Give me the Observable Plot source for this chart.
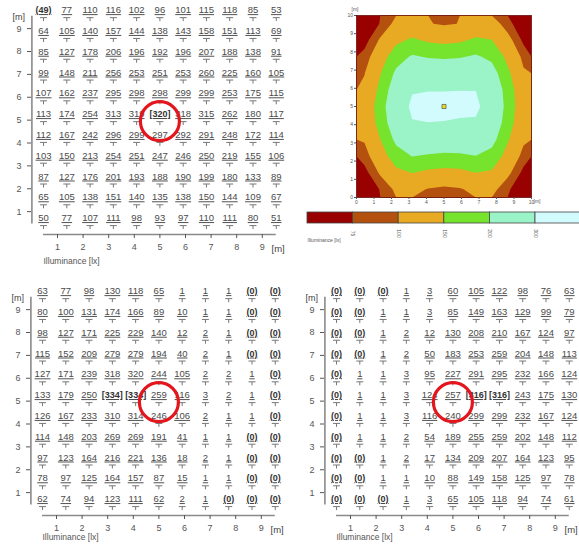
<!DOCTYPE html>
<html><head><meta charset="utf-8">
<script src="https://cdn.jsdelivr.net/npm/d3@7"></script>
<script src="https://cdn.jsdelivr.net/npm/@observablehq/plot@0.6"></script>
<style>
html,body{margin:0;padding:0;background:#fff;overflow:hidden;}
#page{position:relative;width:579px;height:546px;overflow:hidden;}
#page > svg{position:absolute;}
</style></head><body><div id="page"></div>
<script>
// calculation grid: 11 x 11 points over a 10 m x 10 m room [m]
const gridM = d3.range(11).map(i => (i + 0.5) * 10 / 11);
const axisTicks = [1, 2, 3, 4, 5, 6, 7, 8, 9];
const contourTicks = [0, 1, 2, 3, 4, 5, 6, 7, 8, 9, 10];
const isoLevels = [75, 100, 150, 200, 300];
const isoColors = ["#990000", "#b5510f", "#e8aa22", "#76e32d", "#9bf3c8", "#d2fbfe"];

// illuminance [lx], rows listed from top (y ~ 9.5 m) to bottom (y ~ 0.5 m)
const illumA = [
  [49, 77, 110, 116, 102, 96, 101, 115, 118, 85, 53],
  [64, 105, 140, 157, 144, 138, 143, 158, 151, 113, 69],
  [85, 127, 178, 206, 196, 192, 196, 207, 188, 138, 91],
  [99, 148, 211, 256, 253, 251, 253, 260, 225, 160, 105],
  [107, 162, 237, 295, 298, 298, 299, 299, 253, 175, 115],
  [113, 174, 254, 313, 319, 320, 318, 315, 262, 180, 117],
  [112, 167, 242, 296, 299, 297, 292, 291, 248, 172, 114],
  [103, 150, 213, 254, 251, 247, 246, 250, 219, 155, 106],
  [87, 127, 176, 201, 193, 188, 190, 199, 180, 133, 89],
  [65, 105, 138, 151, 140, 135, 138, 150, 144, 109, 67],
  [50, 77, 107, 111, 98, 93, 97, 110, 111, 80, 51]
];
const illumB = [
  [63, 77, 98, 130, 118, 65, 1, 1, 1, 0, 0],
  [80, 100, 131, 174, 166, 89, 10, 1, 1, 0, 0],
  [98, 127, 171, 225, 229, 140, 12, 2, 1, 0, 0],
  [115, 152, 209, 279, 279, 194, 40, 2, 1, 0, 0],
  [127, 171, 239, 318, 320, 244, 105, 2, 2, 1, 0],
  [133, 179, 250, 334, 334, 259, 116, 3, 2, 1, 0],
  [126, 167, 233, 310, 314, 246, 106, 2, 1, 1, 0],
  [114, 148, 203, 269, 269, 191, 41, 1, 1, 0, 0],
  [97, 123, 164, 216, 221, 136, 18, 2, 1, 0, 0],
  [78, 97, 125, 164, 157, 87, 15, 1, 1, 0, 0],
  [62, 74, 94, 123, 111, 62, 2, 1, 0, 0, 0]
];
const illumC = [
  [0, 0, 0, 1, 3, 60, 105, 122, 98, 76, 63],
  [0, 0, 1, 1, 3, 85, 149, 163, 129, 99, 79],
  [0, 0, 1, 2, 12, 130, 208, 210, 167, 124, 97],
  [0, 0, 1, 2, 50, 183, 253, 259, 204, 148, 113],
  [0, 1, 1, 3, 95, 227, 291, 295, 232, 166, 124],
  [0, 1, 1, 3, 124, 257, 316, 316, 243, 175, 130],
  [0, 1, 1, 3, 116, 240, 299, 299, 232, 167, 124],
  [0, 1, 1, 2, 54, 189, 255, 259, 202, 148, 112],
  [0, 0, 1, 2, 17, 134, 209, 207, 164, 123, 95],
  [0, 0, 1, 1, 10, 88, 149, 158, 125, 97, 78],
  [0, 0, 0, 1, 3, 65, 105, 118, 94, 74, 61]
];
const focusCell = {col: 5, row: 5}; // circled calculation point

const page = document.getElementById("page");
const valFont = "'Liberation Sans Narrow', 'Arial Narrow', 'Liberation Sans', Arial, sans-serif";
const tickFont = "'Liberation Sans', Arial, sans-serif";

function toPoints(rows) {
  const pts = [];
  rows.forEach((row, j) => row.forEach((v, i) => pts.push({x: gridM[i], y: gridM[10 - j], v, col: i, row: j})));
  const mn = d3.min(pts, d => d.v), mx = d3.max(pts, d => d.v);
  pts.forEach(d => {
    d.ext = d.v === mn ? "min" : d.v === mx ? "max" : null;
    d.label = d.ext === "min" ? `(${d.v})` : d.ext === "max" ? `[${d.v}]` : `${d.v}`;
  });
  return pts;
}

const tSymbol = {
  draw(ctx) {
    ctx.moveTo(-3.5, 1.5); ctx.lineTo(3.5, 1.5);
    ctx.moveTo(0, 1.5); ctx.lineTo(0, 5);
  }
};

function place(svg, left, top) {
  svg.style.left = left + "px";
  svg.style.top = top + "px";
  page.appendChild(svg);
}

function gridPanel(rows, left, top, height) {
  const pts = toPoints(rows);
  const svg = Plot.plot({
    width: 290, height,
    marginLeft: 31, marginTop: 0, marginRight: 0, marginBottom: height - 234,
    x: {domain: [0, 10], range: [31.4, 287.4]},
    y: {domain: [0, 10], range: [234, 5.25]},
    style: {background: "transparent", fontFamily: tickFont, fontSize: "9px", color: "#444", overflow: "visible"},
    marks: [
      Plot.ruleX([0], {y1: d3.min(gridM), y2: d3.max(gridM), stroke: "#8a8a8a", strokeWidth: 1.6}),
      Plot.ruleY([0], {x1: d3.min(gridM), x2: d3.max(gridM), stroke: "#8a8a8a", strokeWidth: 1.6}),
      Plot.axisX({ticks: axisTicks, tickFormat: d => String(d), tickSize: 4, tickPadding: 5, label: null, color: "#555"}),
      Plot.axisY({ticks: axisTicks, tickFormat: d => String(d), tickSize: 4, tickPadding: 6, label: null, color: "#555"}),
      Plot.dot(pts, {x: "x", y: "y", symbol: tSymbol, r: 3, fill: "none", stroke: "#777", strokeWidth: 1}),
      Plot.text(pts, {filter: d => !d.ext, x: "x", y: "y", text: "label", dy: -3, lineAnchor: "bottom", fontSize: 9.5, fontFamily: valFont, fill: "#4a4a4a"}),
      Plot.text(pts, {filter: d => d.ext, x: "x", y: "y", text: "label", dy: -3, lineAnchor: "bottom", fontSize: 9, fontWeight: "bold", fontFamily: valFont, fill: "#333"}),
      Plot.dot(pts, {filter: d => d.col === focusCell.col && d.row === focusCell.row, x: "x", y: "y", r: 19.5, dy: 1, fill: "none", stroke: "#e3161d", strokeWidth: 3.2}),
      Plot.text(["[m]"], {frameAnchor: "top-left", dx: -19, dy: 13, fontSize: 9, fill: "#444"}),
      Plot.text(["[m]"], {frameAnchor: "bottom-left", dx: 240, dy: 17, fontSize: 9.5, fill: "#444"}),
      Plot.text(["Illuminance [lx]"], {frameAnchor: "bottom-left", dx: 12, dy: height - 234 - 7, textAnchor: "start", fontSize: 8.5, fill: "#555"})
    ]
  });
  svg.querySelectorAll('g[aria-label="text"] text').forEach(t => {
    if (/^[\(\[]?\d+[\)\]]?$/.test(t.textContent)) t.setAttribute("text-decoration", "underline");
  });
  place(svg, left, top);
}

gridPanel(illumA, 0, 0, 270);
gridPanel(illumB, -1, 281, 265);
gridPanel(illumC, 293, 281, 265);

// isolux contour of the first layout
const ptsA = toPoints(illumA);
const contourSvg = Plot.plot({
  width: 289, height: 212,
  marginLeft: 66, marginRight: 48, marginTop: 15, marginBottom: 15,
  x: {domain: [0, 10]},
  y: {domain: [0, 10]},
  color: {type: "threshold", domain: isoLevels, range: isoColors},
  style: {background: "transparent", fontFamily: tickFont, fontSize: "5px", color: "#555", overflow: "visible"},
  marks: [
    Plot.frame({fill: isoColors[0]}),
    Plot.contour(illumA.flat(), {width: 11, height: 11, x1: 0, y1: 10, x2: 10, y2: 0, fill: Plot.identity, thresholds: isoLevels, stroke: "none"}),
    Plot.frame({stroke: "#5a0000", strokeWidth: 0.7}),
    Plot.axisX({ticks: contourTicks, tickFormat: d => String(d), tickSize: 2, tickPadding: 1, label: null}),
    Plot.axisY({ticks: contourTicks, tickFormat: d => String(d), tickSize: 2, tickPadding: 1.5, label: null}),
    Plot.dot(ptsA, {filter: d => d.ext === "max", x: "x", y: "y", symbol: "square", r: 2.3, fill: "#e6dc1e", stroke: "#555", strokeWidth: 0.7}),
    Plot.text(["[m]"], {frameAnchor: "top-left", dx: -5, dy: -8, fontSize: 5}),
    Plot.text(["[m]"], {frameAnchor: "bottom-right", dx: 9, dy: 5, fontSize: 5})
  ]
});
place(contourSvg, 290, 0);

// legend of the isolux bands
const bands = [0, ...isoLevels].map((lo, i) => ({lo, i}));
const legendSvg = Plot.plot({
  width: 279, height: 45,
  marginLeft: 0, marginRight: 0, marginTop: 0, marginBottom: 0,
  x: {domain: [0, 6], range: [7, 7 + 6 * 45.6], axis: null},
  y: {domain: [0, 1], range: [18, 7], axis: null},
  color: {type: "threshold", domain: isoLevels, range: isoColors},
  style: {background: "transparent", fontFamily: tickFont, fontSize: "5px", color: "#555", overflow: "visible"},
  marks: [
    Plot.rect(bands, {x1: "i", x2: d => d.i + 1, y1: 0, y2: 1, fill: "lo", stroke: "#444", strokeWidth: 0.8}),
    Plot.text(isoLevels, {x: (d, i) => i + 1, y: 0, dy: 10, text: d => String(d), rotate: 90, fontSize: 5, fill: "#555"}),
    Plot.text(["Illuminance [lx]"], {frameAnchor: "top-left", dx: 7, dy: 33, textAnchor: "start", fontSize: 5, fill: "#555"})
  ]
});
place(legendSvg, 300, 205);
</script>
</body></html>
